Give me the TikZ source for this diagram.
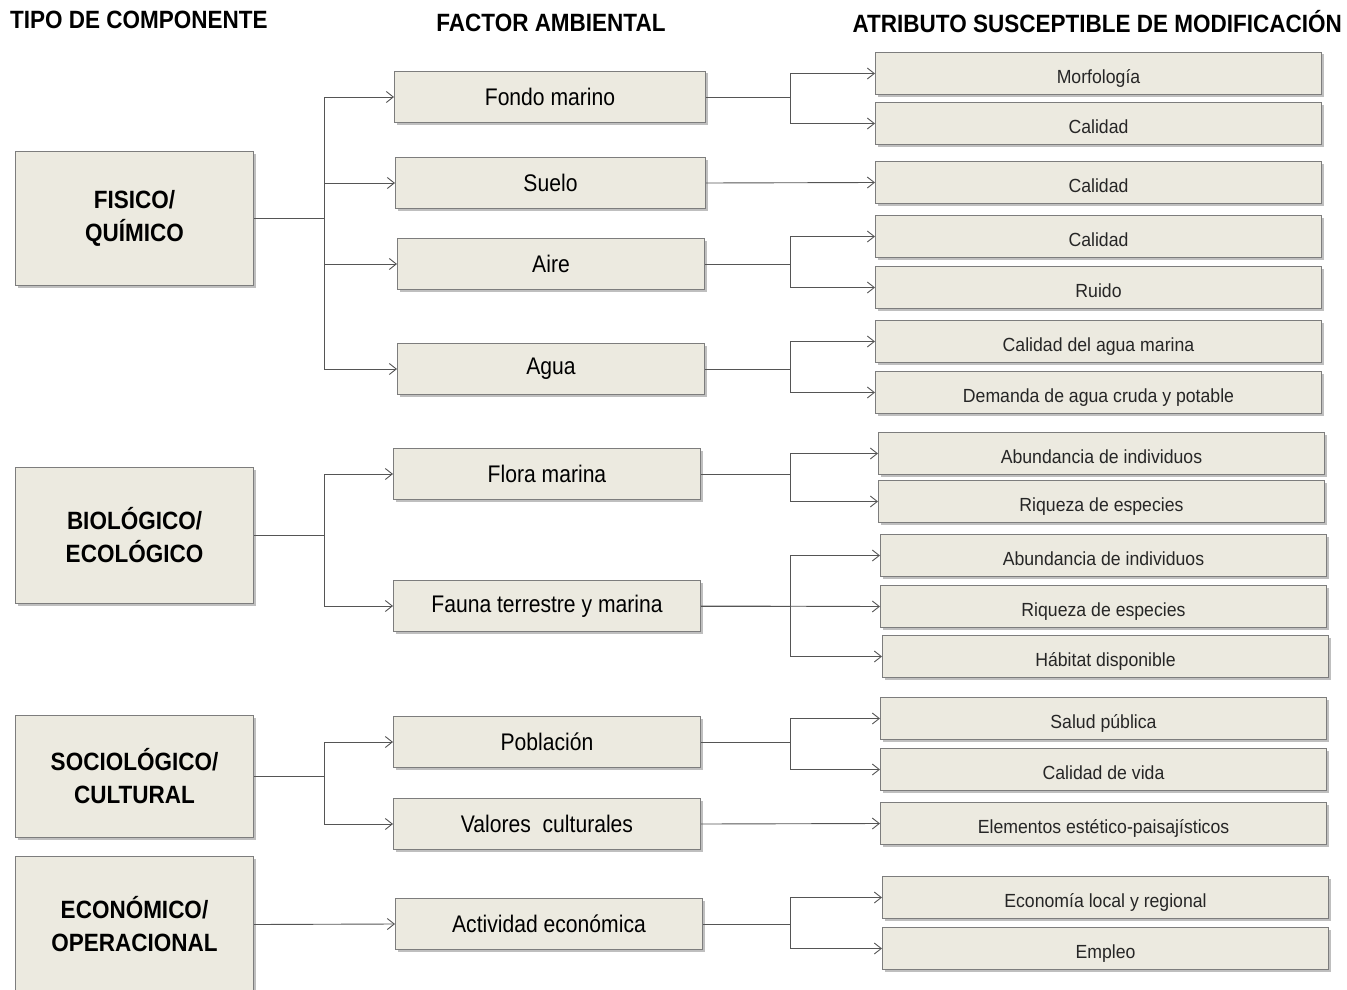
\documentclass[tikz,border=0pt]{standalone}
\usepackage{fontspec}
\setmainfont{Liberation Sans}
\newfontfamily\narrowsf[FakeStretch=0.88]{Liberation Sans}
\newfontfamily\titlesf[FakeStretch=0.9]{Liberation Sans}
\newfontfamily\attrsf[FakeStretch=0.93]{Liberation Sans}
\usetikzlibrary{positioning,arrows.meta,shadows}

\definecolor{boxfill}{RGB}{236,234,224}
\definecolor{boxline}{RGB}{125,125,125}
\definecolor{wire}{RGB}{85,85,85}

\begin{document}
\begin{tikzpicture}[
        x=1pt, y=-1pt,
        box/.style={draw=boxline, fill=boxfill, line width=1pt, anchor=north west, inner sep=0pt, align=center,
            drop shadow={shadow xshift=2pt, shadow yshift=-2pt, fill=black, opacity=0.25}},
        comp/.style={box, minimum width=238pt, font=\titlesf\bfseries\fontsize{25}{33}\selectfont},
        factor/.style={box, minimum width=307pt, minimum height=51pt, font=\narrowsf\fontsize{24}{28}\selectfont},
        attr/.style={box, minimum width=446pt, minimum height=42pt, text height=20pt, text depth=0pt,
            font=\attrsf\fontsize{19}{23}\selectfont, text=black!85},
        title/.style={inner sep=0pt, font=\titlesf\bfseries\fontsize{25}{30}\selectfont},
        wire/.style={draw=wire, line width=0.9pt},
        line/.style={wire, -{Straight Barb[length=7pt, width=11pt, line width=0.9pt]}}
    ]
        \useasboundingbox (0,0) rectangle (1347,990);

        % titulos
        \node[title, anchor=west] (ttipo) at (10,20) {TIPO DE COMPONENTE};
        \node[title] (tfactor) at (551,23) {FACTOR AMBIENTAL};
        \node[title, anchor=east] (tatrib) at (1342,22) {ATRIBUTO SUSCEPTIBLE DE MODIFICACIÓN};

        % componentes
        \node[comp, minimum height=134pt] (fisico) at (15,151) {FISICO/\\QUÍMICO};
        \node[comp, minimum height=136pt] (biologico) at (15,467) {BIOLÓGICO/\\ECOLÓGICO};
        \node[comp, minimum height=122pt] (social) at (15,715) {SOCIOLÓGICO/\\CULTURAL};
        \node[comp, minimum height=136pt] (economico) at (15,856) {ECONÓMICO/\\OPERACIONAL};

        % factores
        \node[factor, minimum width=311pt] (fondo) at (394,71) {Fondo marino};
        \node[factor, minimum width=310pt] (suelo) at (395,157) {Suelo};
        \node[factor] (aire) at (397,238) {Aire};
        \node[factor] (agua) at (397,343) {Agua};
        \node[factor] (flora) at (393,448) {Flora marina};
        \node[factor] (fauna) at (393,580) {Fauna terrestre y marina};
        \node[factor] (poblacion) at (393,716) {Población};
        \node[factor] (valores) at (393,798) {Valores\ \ culturales};
        \node[factor] (actividad) at (395,898) {Actividad económica};

        % atributos
        \node[attr] (morfo) at (875,52) {Morfología};
        \node[attr] (calfondo) at (875,102) {Calidad};
        \node[attr] (calsuelo) at (875,161) {Calidad};
        \node[attr] (calaire) at (875,215) {Calidad};
        \node[attr] (ruido) at (875,266) {Ruido};
        \node[attr] (calagua) at (875,320) {Calidad del agua marina};
        \node[attr] (demanda) at (875,371) {Demanda de agua cruda y potable};
        \node[attr] (abflora) at (878,432) {Abundancia de individuos};
        \node[attr] (riqflora) at (878,480) {Riqueza de especies};
        \node[attr] (abfauna) at (880,534) {Abundancia de individuos};
        \node[attr] (riqfauna) at (880,585) {Riqueza de especies};
        \node[attr] (habitat) at (882,635) {Hábitat disponible};
        \node[attr] (salud) at (880,697) {Salud pública};
        \node[attr] (vida) at (880,748) {Calidad de vida};
        \node[attr] (estetico) at (880,802) {Elementos estético-paisajísticos};
        \node[attr] (economia) at (882,876) {Economía local y regional};
        \node[attr] (empleo) at (882,927) {Empleo};

        % troncos
        \coordinate (ta) at (324,0);
        \coordinate (tb) at (790,0);

        \draw[line] (fisico.east) -- (fisico -| ta) |- (fondo.west);
        \draw[line] (fisico.east) -- (fisico -| ta) |- (suelo.west);
        \draw[line] (fisico.east) -- (fisico -| ta) |- (aire.west);
        \draw[line] (fisico.east) -- (fisico -| ta) |- (agua.west);
        \draw[line] (biologico.east) -- (biologico -| ta) |- (flora.west);
        \draw[line] (biologico.east) -- (biologico -| ta) |- (fauna.west);
        \draw[line] (social.east) -- (social -| ta) |- (poblacion.west);
        \draw[line] (social.east) -- (social -| ta) |- (valores.west);
        \draw[line] (economico.east) -- (actividad.west);

        \draw[line] (fondo.east) -- (fondo -| tb) |- (morfo.west);
        \draw[line] (fondo.east) -- (fondo -| tb) |- (calfondo.west);
        \draw[line] (suelo.east) -- (calsuelo.west);
        \draw[line] (aire.east) -- (aire -| tb) |- (calaire.west);
        \draw[line] (aire.east) -- (aire -| tb) |- (ruido.west);
        \draw[line] (agua.east) -- (agua -| tb) |- (calagua.west);
        \draw[line] (agua.east) -- (agua -| tb) |- (demanda.west);
        \draw[line] (flora.east) -- (flora -| tb) |- (abflora.west);
        \draw[line] (flora.east) -- (flora -| tb) |- (riqflora.west);
        \draw[line] (fauna.east) -- (fauna -| tb) |- (abfauna.west);
        \draw[line] (fauna.east) -- (riqfauna.west);
        \draw[line] (fauna.east) -- (fauna -| tb) |- (habitat.west);
        \draw[line] (poblacion.east) -- (poblacion -| tb) |- (salud.west);
        \draw[line] (poblacion.east) -- (poblacion -| tb) |- (vida.west);
        \draw[line] (valores.east) -- (estetico.west);
        \draw[line] (actividad.east) -- (actividad -| tb) |- (economia.west);
        \draw[line] (actividad.east) -- (actividad -| tb) |- (empleo.west);
    \end{tikzpicture}
\end{document}
